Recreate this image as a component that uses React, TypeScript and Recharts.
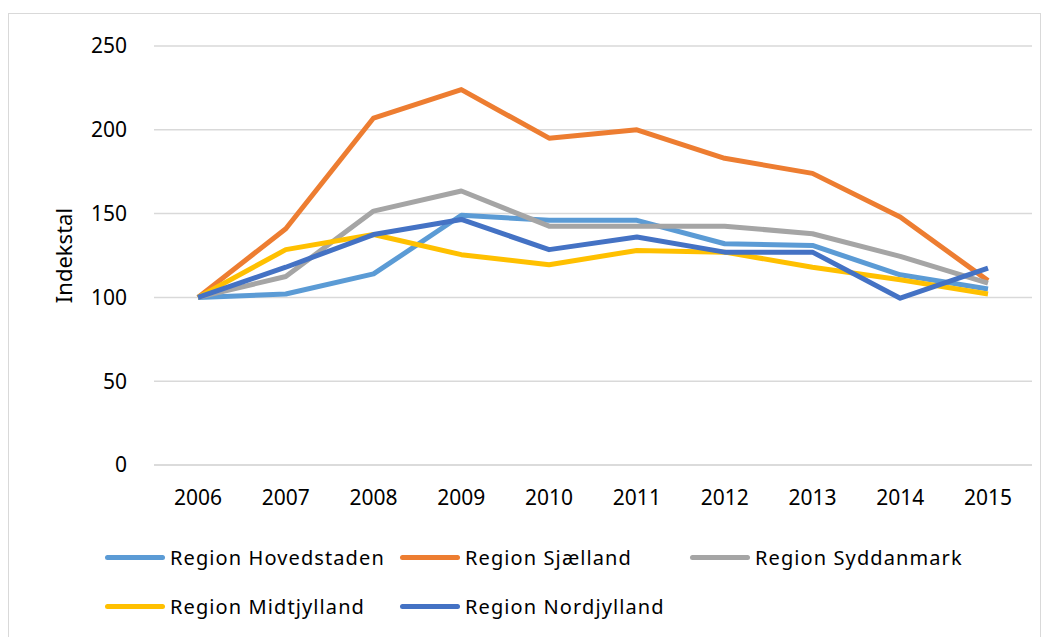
import { CartesianGrid, Legend, Line, LineChart, XAxis, YAxis } from 'recharts'

const YEARS = ['2006', '2007', '2008', '2009', '2010', '2011', '2012', '2013', '2014', '2015']

const HOVEDSTADEN = [100, 102, 114, 149, 146, 146, 132, 131, 113.5, 105]
const SJAELLAND = [100, 141, 207, 224, 195, 200, 183, 174, 148, 110]
const SYDDANMARK = [100, 112.5, 151.5, 163.5, 142.5, 142.5, 142.5, 138, 124.5, 108.5]
const MIDTJYLLAND = [100, 128.5, 137.5, 125.5, 119.5, 128, 127, 118, 110.5, 102]
const NORDJYLLAND = [100, 118, 137.5, 146.5, 128.5, 136, 127, 127, 99.5, 117.5]

const Y_TICKS = [0, 50, 100, 150, 200, 250]

const SERIES = [
  { key: 'hovedstaden', name: 'Region Hovedstaden', values: HOVEDSTADEN, color: '#5b9bd5' },
  { key: 'sjaelland', name: 'Region Sjælland', values: SJAELLAND, color: '#ed7d31' },
  { key: 'syddanmark', name: 'Region Syddanmark', values: SYDDANMARK, color: '#a5a5a5' },
  { key: 'midtjylland', name: 'Region Midtjylland', values: MIDTJYLLAND, color: '#ffc000' },
  { key: 'nordjylland', name: 'Region Nordjylland', values: NORDJYLLAND, color: '#4472c4' },
]

const FONT = '"Noto Sans", "Open Sans", sans-serif'
const TEXT = '#000000'

const data = YEARS.map((year, i) => {
  const row: Record<string, string | number> = { year }
  for (const s of SERIES) row[s.key] = s.values[i]
  return row
})

const LEGEND_COLS = [96, 391, 681]
const LEGEND_ROWS = [23, 72]

// legend keeps the series order (recharts sorts its payload by name)
function renderLegend() {
  return (
    <div style={{ position: 'relative', width: 1031, height: 100, fontFamily: FONT }}>
      {SERIES.map((s, i) => (
        <div
          key={s.key}
          style={{
            position: 'absolute',
            left: LEGEND_COLS[i % 3],
            top: LEGEND_ROWS[Math.floor(i / 3)] - 14,
            height: 28,
            display: 'flex',
            alignItems: 'center',
            whiteSpace: 'nowrap',
          }}
        >
          <span
            style={{
              display: 'inline-block',
              width: 60,
              height: 5,
              borderRadius: 3,
              background: s.color,
              marginRight: 5,
            }}
          />
          <span style={{ fontSize: 20, letterSpacing: 1.1, color: TEXT }}>{s.name}</span>
        </div>
      ))}
    </div>
  )
}

function YLabel(props: any) {
  const vb = props.viewBox ?? { x: 0, y: 0, width: 0, height: 0 }
  const x = vb.x - 11
  const y = vb.y + vb.height / 2
  return (
    <text
      x={x}
      y={y}
      transform={`rotate(-90, ${x}, ${y})`}
      textAnchor="middle"
      dominantBaseline="central"
      fontFamily={FONT}
      fontSize={22}
      fill={TEXT}
    >
      Indekstal
    </text>
  )
}

export default function App() {
  return (
    <div
      style={{
        marginTop: 5,
        width: 1031,
        height: 640,
        border: '1px solid #d9d9d9',
        background: '#ffffff',
        position: 'relative',
      }}
    >
      <LineChart
        width={1031}
        height={640}
        data={data}
        margin={{ top: 32, right: 8, bottom: 159, left: 65 }}
      >
        <CartesianGrid vertical={false} stroke="#d9d9d9" strokeWidth={1.5} />
        <XAxis
          dataKey="year"
          height={30}
          padding={{ left: 44, right: 44 }}
          axisLine={{ stroke: '#d9d9d9', strokeWidth: 1.5 }}
          tickLine={false}
          tickMargin={19}
          tick={{ fill: TEXT, fontSize: 21, fontFamily: FONT }}
          interval={0}
        />
        <YAxis
          width={80}
          domain={[0, 250]}
          ticks={Y_TICKS}
          axisLine={false}
          tickLine={false}
          tickMargin={21}
          tick={{ fill: TEXT, fontSize: 21, fontFamily: FONT }}
          label={{ content: (p: any) => <YLabel {...p} /> }}
        />
        <Legend
          layout="vertical"
          align="center"
          verticalAlign="middle"
          content={renderLegend}
          wrapperStyle={{ position: 'absolute', left: 0, top: 520, width: 1031, height: 100 }}
        />
        {SERIES.map((s) => (
          <Line
            key={s.key}
            name={s.name}
            dataKey={s.key}
            type="linear"
            stroke={s.color}
            strokeWidth={5}
            strokeLinejoin="round"
            dot={false}
            activeDot={false}
            isAnimationActive={false}
          />
        ))}
      </LineChart>
    </div>
  )
}
